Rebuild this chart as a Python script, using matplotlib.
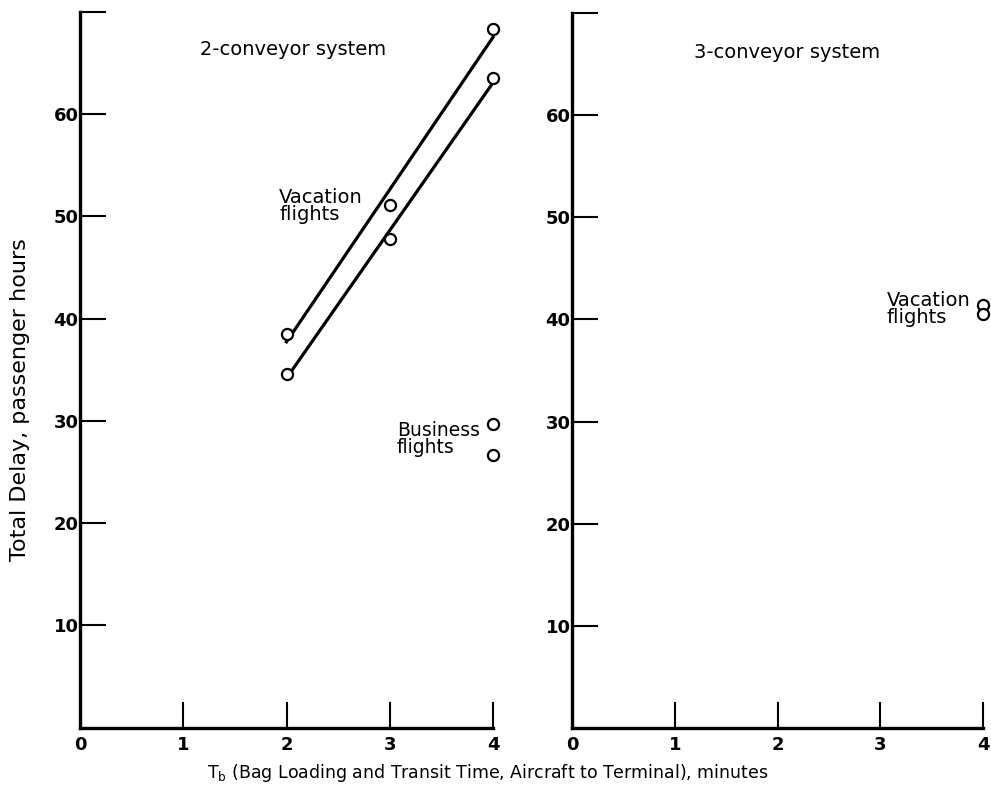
import numpy as np
import matplotlib
matplotlib.use("Agg")
import matplotlib.pyplot as plt

plt.rcParams['font.family'] = ['DejaVu Sans']

# 2-conveyor system
tb_2conv = [2, 3, 4]
upper_2conv = [38.5, 51.1, 68.3]
lower_2conv = [34.6, 47.8, 63.5]
business_x = [4, 4]
business_y = [29.7, 26.7]

# 3-conveyor system
vacation3_x = [4, 4]
vacation3_y = [41.4, 40.5]

xticks = [0, 1, 2, 3, 4]
yticks = [10, 20, 30, 40, 50, 60, 70]
ytick_labels = ['10', '20', '30', '40', '50', '60', '']

W, H = 991, 793
fig = plt.figure(figsize=(W / 100, H / 100), dpi=100)

def panel(x0, x4, ybot, ytop):
    ax = fig.add_axes([x0 / W, 1 - ybot / H, (x4 - x0) / W, (ybot - ytop) / H])
    ax.set_xlim(0, 4)
    ax.set_ylim(0, 70)
    for s in ['top', 'right']:
        ax.spines[s].set_visible(False)
    for s in ['left', 'bottom']:
        ax.spines[s].set_linewidth(2.4)
    ax.set_xticks(xticks[1:])
    ax.set_yticks(yticks)
    ax.set_yticklabels(ytick_labels)
    ax.tick_params(axis='both', direction='in', length=19, width=1.5,
                   labelsize=13)
    ax.tick_params(axis='y', pad=1)
    ax.tick_params(axis='x', pad=6)
    for lab in ax.get_xticklabels() + ax.get_yticklabels():
        lab.set_fontweight('bold')
    ax.text(0, -0.8, '0', ha='center', va='top', fontsize=13,
            fontweight='bold', transform=ax.transData)
    return ax

mk = dict(marker='o', ms=8, mfc='white', mec='black', mew=1.6,
          linestyle='none', clip_on=False, zorder=3)

ax1 = panel(80, 493, 727.6, 12)
xs = np.array([2, 4])
for ys in (upper_2conv, lower_2conv):
    k, b = np.polyfit(tb_2conv, ys, 1)
    ax1.plot(xs, k * xs + b, color='black', lw=2.3, clip_on=False)
    ax1.plot(tb_2conv, ys, **mk)
ax1.plot(business_x, business_y, **mk)
ax1.text(1.16, 66.3, '2-conveyor system', fontsize=14, va='center')
ax1.text(1.93, 51.0, 'Vacation\nflights', fontsize=14, va='center',
         linespacing=0.85)
ax1.text(3.07, 28.2, 'Business\nflights', fontsize=13.5, va='center',
         linespacing=0.85)

ax2 = panel(572, 983, 728, 13)
ax2.plot(vacation3_x, vacation3_y, **mk)
ax2.text(1.19, 66.1, '3-conveyor system', fontsize=14, va='center')
ax2.text(3.06, 41.0, 'Vacation\nflights', fontsize=14, va='center',
         linespacing=0.85)

fig.text(20 / W, 1 - 400 / H, 'Total Delay, passenger hours',
         rotation=90, ha='center', va='center', fontsize=16)
fig.text(488 / W, 1 - 773 / H,
         r'T$_\mathregular{b}$ (Bag Loading and Transit Time, Aircraft to Terminal), minutes',
         ha='center', va='center', fontsize=12.5)

fig.savefig('out.png', dpi=100)
